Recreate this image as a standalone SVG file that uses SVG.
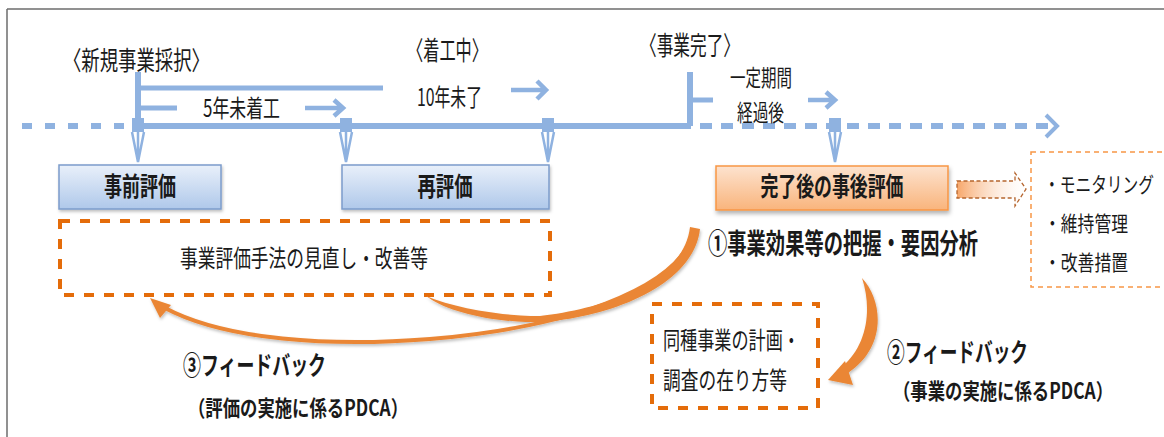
<svg xmlns="http://www.w3.org/2000/svg" width="1164" height="437" viewBox="0 0 1164 437">
<defs>
<style>
.t{font-family:"Noto Sans CJK JP","Noto Sans",sans-serif;fill:#1a1a1a;}
.b{font-weight:bold;}
.tl{stroke:#8FB2E0;fill:none;}
.odash{fill:#fff;stroke:#E46C0A;stroke-width:4;stroke-dasharray:10 10;}
.oarrow{fill:#EA8635;stroke:none;}
</style>
<linearGradient id="gBlue" x1="0" y1="0" x2="0" y2="1">
<stop offset="0" stop-color="#E9F0FA"/>
<stop offset="1" stop-color="#AFC8EA"/>
</linearGradient>
<linearGradient id="gOrange" x1="0" y1="0" x2="0" y2="1">
<stop offset="0" stop-color="#FDE3CF"/>
<stop offset="1" stop-color="#F9B47C"/>
</linearGradient>
<linearGradient id="gFade" x1="0" y1="0" x2="1" y2="0">
<stop offset="0" stop-color="#F7A669"/>
<stop offset="1" stop-color="#FFFFFF" stop-opacity="0.2"/>
</linearGradient>
<filter id="sh" x="-10%" y="-20%" width="120%" height="160%">
<feDropShadow dx="1" dy="3" stdDeviation="2" flood-color="#000" flood-opacity="0.3"/>
</filter>
<filter id="sh2" x="-10%" y="-20%" width="120%" height="160%">
<feDropShadow dx="1" dy="2" stdDeviation="1.5" flood-color="#000" flood-opacity="0.25"/>
</filter>
</defs>

<rect width="1164" height="437" fill="#fff"/>
<g id="frame" stroke="#6E6E6E" stroke-width="1.5" fill="none">
<path d="M7,9 H1164 M7,9 V437"/>
</g>

<g id="timeline">
<path class="tl" d="M22,126 H130" stroke-width="6" stroke-dasharray="10 13"/>
<path class="tl" d="M138,126 H691" stroke-width="6"/>
<path class="tl" d="M700,126 H1050" stroke-width="6" stroke-dasharray="12 9"/>
<path class="tl" d="M1046,115 L1057,126 L1046,137" stroke-width="4"/>
<path class="tl" d="M138,72 V126" stroke-width="6"/>
<path class="tl" d="M138,88 H383" stroke-width="5"/>
<path class="tl" d="M138,108 H177" stroke-width="5"/>
<path class="tl" d="M305,108 H341 M334,100 L343,108 L334,116" stroke-width="4.5"/>
<path class="tl" d="M511,90 H544 M537,81 L546,90 L537,99" stroke-width="4.5"/>
<path class="tl" d="M690,72 V126" stroke-width="6"/>
<path class="tl" d="M690,100 H713" stroke-width="5"/>
<path class="tl" d="M808,100 H833 M826,92 L835,100 L826,108" stroke-width="4.5"/>
<g fill="#8FB2E0" stroke="none">
<rect x="132" y="118" width="12" height="14"/>
<rect x="340" y="118" width="12" height="14"/>
<rect x="542" y="118" width="12" height="14"/>
<rect x="829" y="118" width="12" height="14"/>
</g>
<g class="tl" stroke-width="2.5">
<path d="M132,132 L138,162 L144,132 M138,130 V162"/>
<path d="M340,132 L346,162 L352,132 M346,130 V162"/>
<path d="M542,132 L548,162 L554,132 M548,130 V162"/>
<path d="M829,132 L835,162 L841,132 M835,130 V162"/>
</g>
<text class="t" x="63" y="70" font-size="26" textLength="147" lengthAdjust="spacingAndGlyphs">〈新規事業採択〉</text>
<text class="t" x="203" y="117" font-size="24" textLength="77" lengthAdjust="spacingAndGlyphs">5年未着工</text>
<text class="t" x="407" y="60" font-size="26" textLength="81" lengthAdjust="spacingAndGlyphs">〈着工中〉</text>
<text class="t" x="417" y="106" font-size="24" textLength="65" lengthAdjust="spacingAndGlyphs">10年未了</text>
<text class="t" x="640" y="55" font-size="26" textLength="100" lengthAdjust="spacingAndGlyphs">〈事業完了〉</text>
<text class="t" x="730" y="86" font-size="23" textLength="62" lengthAdjust="spacingAndGlyphs">一定期間</text>
<text class="t" x="737" y="121" font-size="23" textLength="47" lengthAdjust="spacingAndGlyphs">経過後</text>
</g>

<g id="node-jizen">
<rect x="59" y="165" width="162" height="44" fill="url(#gBlue)" stroke="#7C9CCB" stroke-width="1.5" filter="url(#sh2)"/>
<text class="t b" x="140" y="196" font-size="26" text-anchor="middle" textLength="72" lengthAdjust="spacingAndGlyphs">事前評価</text>
</g>
<g id="node-sai">
<rect x="342" y="165" width="207" height="44" fill="url(#gBlue)" stroke="#7C9CCB" stroke-width="1.5" filter="url(#sh2)"/>
<text class="t b" x="445" y="196" font-size="26" text-anchor="middle" textLength="55" lengthAdjust="spacingAndGlyphs">再評価</text>
</g>
<g id="node-jigo">
<rect x="716" y="166" width="232" height="44" fill="url(#gOrange)" stroke="#F79646" stroke-width="1.5" filter="url(#sh)"/>
<text class="t b" x="832" y="196" font-size="26" text-anchor="middle" textLength="143" lengthAdjust="spacingAndGlyphs">完了後の事後評価</text>
</g>

<g id="node-minaoshi">
<rect class="odash" x="60" y="221" width="490" height="74"/>
<text class="t" x="180" y="267" font-size="24" textLength="248" lengthAdjust="spacingAndGlyphs">事業評価手法の見直し・改善等</text>
</g>
<g id="node-doshu">
<rect class="odash" x="652" y="304" width="166" height="104"/>
<text class="t" x="663" y="349" font-size="24" textLength="137" lengthAdjust="spacingAndGlyphs">同種事業の計画・</text>
<text class="t" x="663" y="389" font-size="24" textLength="124" lengthAdjust="spacingAndGlyphs">調査の在り方等</text>
</g>
<g id="node-monitor">
<rect x="1031" y="152" width="150" height="135" fill="#fff" stroke="#F79646" stroke-width="1.5" stroke-dasharray="5 4"/>
<text class="t" x="1044" y="192" font-size="21" textLength="110" lengthAdjust="spacingAndGlyphs">・モニタリング</text>
<text class="t" x="1044" y="231" font-size="21" textLength="84" lengthAdjust="spacingAndGlyphs">・維持管理</text>
<text class="t" x="1044" y="270" font-size="21" textLength="84" lengthAdjust="spacingAndGlyphs">・改善措置</text>
</g>
<g id="node-bunseki">
<text class="t b" x="708" y="254" font-size="28" textLength="270" lengthAdjust="spacingAndGlyphs">①事業効果等の把握・要因分析</text>
</g>
<g id="label-fb2">
<text class="t b" x="887" y="362" font-size="26" textLength="141" lengthAdjust="spacingAndGlyphs">②フィードバック</text>
<text class="t b" x="893" y="399" font-size="22" textLength="220" lengthAdjust="spacingAndGlyphs">（事業の実施に係るPDCA）</text>
</g>
<g id="label-fb3">
<text class="t b" x="183" y="375" font-size="26" textLength="143" lengthAdjust="spacingAndGlyphs">③フィードバック</text>
<text class="t b" x="188" y="416" font-size="22" textLength="220" lengthAdjust="spacingAndGlyphs">（評価の実施に係るPDCA）</text>
</g>

<g id="connectors">
<path d="M957,181 H1015 V173 L1026,189 L1015,206 V198 H957 Z" fill="url(#gFade)" stroke="#B5652E" stroke-width="1.3" stroke-dasharray="4 2.5"/>
<g filter="url(#sh2)">
<path d="M690,227 L700,229 C694,285 610,318 540,322 C500,323 455,314 432,300 L426,296 C455,308 500,316 540,316 C610,308 684,280 690,227 Z" class="oarrow"/>
<path d="M695,229 C680,292 560,328 430,339 C330,347 225,340 165,308" fill="none" stroke="#EA8635" stroke-width="4"/>
<path d="M150,298 L171,305 L160,318 Z" class="oarrow"/>
<path d="M862,278 C884,302 886,348 848,373 L842,367 C868,345 872,308 862,278 Z" class="oarrow"/>
<path d="M828,380 L845,361 L853,385 Z" class="oarrow"/>
</g>
</g>
</svg>
